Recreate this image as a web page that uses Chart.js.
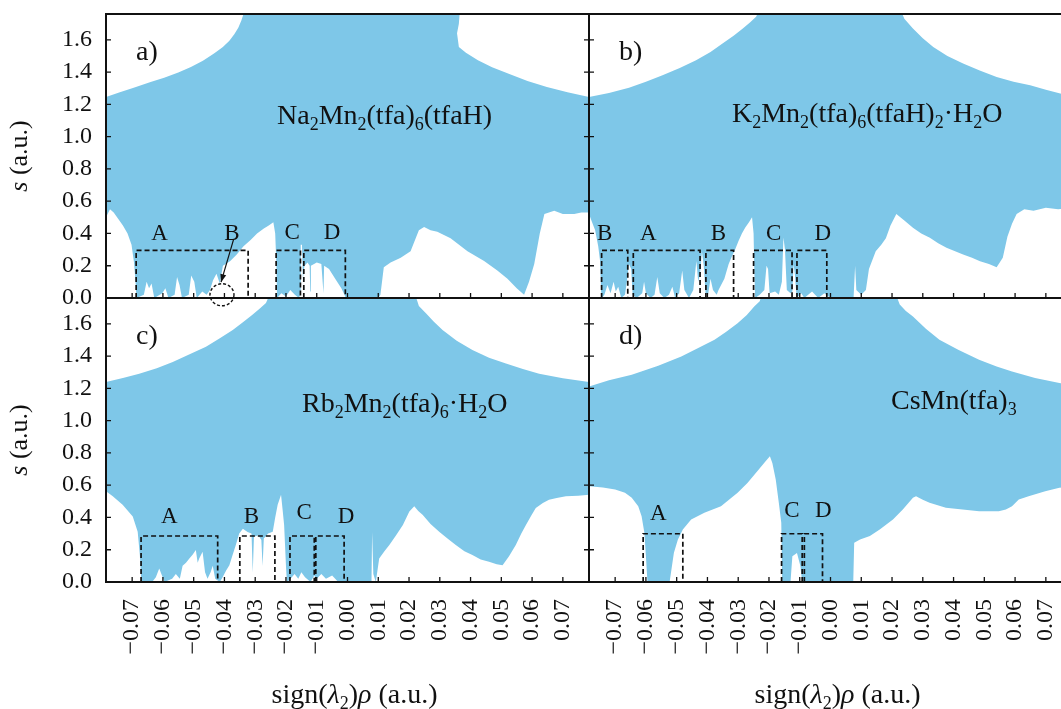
<!DOCTYPE html>
<html>
<head>
<meta charset="utf-8">
<script src="https://cdn.jsdelivr.net/npm/chart.js@4.4.1/dist/chart.umd.min.js"></script>
<style>
  html, body { margin: 0; padding: 0; background: #fff; }
  body { width: 1061px; height: 709px; overflow: hidden; position: relative; }
  canvas { position: absolute; }
</style>
</head>
<body>
<canvas id="panel-a" width="600" height="310" style="left:0;top:0"></canvas>
<canvas id="panel-b" width="483" height="310" style="left:589px;top:0"></canvas>
<canvas id="panel-c" width="600" height="418" style="left:0;top:291px"></canvas>
<canvas id="panel-d" width="483" height="418" style="left:589px;top:291px"></canvas>
<script>
const BLUE = 'rgb(126,199,232)';
const INK = '#111';
const SERIF = '"Liberation Serif", "Times New Roman", serif';

const X_MIN = -0.0785, X_MAX = 0.0785, Y_MAX = 1.76;
const xTickValues = [-0.07, -0.06, -0.05, -0.04, -0.03, -0.02, -0.01, 0, 0.01, 0.02, 0.03, 0.04, 0.05, 0.06, 0.07];
const yTickValues = [0, 0.2, 0.4, 0.6, 0.8, 1.0, 1.2, 1.4, 1.6];

// upper / lower edge of the blue point cloud, [sign(l2)rho, s]
const upperA = [[-0.0785,1.245],[-0.0740,1.275],[-0.0695,1.303],[-0.0640,1.338],[-0.0596,1.365],[-0.0550,1.398],[-0.0509,1.432],[-0.0470,1.470],[-0.0434,1.515],[-0.0405,1.555],[-0.0384,1.595],[-0.0368,1.635],[-0.0355,1.675],[-0.0345,1.720],[-0.0338,1.760],[-0.0335,1.800],
  [0.0366,1.800],[0.0362,1.700],[0.0356,1.640],[0.0362,1.556],[0.0385,1.520],[0.0424,1.473],[0.0470,1.430],[0.0524,1.390],[0.0585,1.345],[0.0648,1.307],[0.0715,1.275],[0.0785,1.245]];
const lowerA = [[-0.0785,0.50],[-0.0772,0.55],[-0.0760,0.53],[-0.0745,0.49],[-0.0730,0.45],[-0.0715,0.40],[-0.0702,0.33],[-0.0694,0.22],[-0.0689,0.10],[-0.0686,0.0],
  [-0.0662,0.02],[-0.0653,0.10],[-0.0645,0.06],[-0.0637,0.09],[-0.0628,0.0],[-0.0602,0.03],[-0.0592,0.06],[-0.0582,0.0],
  [-0.0562,0.02],[-0.0554,0.13],[-0.0546,0.08],[-0.0538,0.0],[-0.0516,0.02],[-0.0508,0.14],[-0.0498,0.10],[-0.0490,0.0],
  [-0.0472,0.04],[-0.0458,0.02],[-0.0447,0.05],[-0.0437,0.11],[-0.0426,0.15],[-0.0415,0.09],[-0.0405,0.20],[-0.0381,0.23],[-0.0360,0.27],[-0.0338,0.32],[-0.0315,0.36],[-0.0294,0.40],[-0.0272,0.43],[-0.0256,0.45],[-0.0241,0.47],[-0.0235,0.40],[-0.0231,0.20],[-0.0229,0.0],
  [-0.0215,0.03],[-0.0200,0.01],[-0.0186,0.05],[-0.0171,0.02],[-0.0158,0.0],[-0.0154,0.02],[-0.0152,0.33],[-0.0148,0.33],[-0.0145,0.12],
  [-0.0140,0.20],[-0.0130,0.22],[-0.0123,0.20],[-0.0121,0.04],[-0.0119,0.20],[-0.0100,0.22],[-0.0085,0.21],[-0.0078,0.03],[-0.0076,0.20],[-0.0060,0.18],[-0.0040,0.12],[-0.0020,0.06],[-0.0005,0.0],
  [0.0100,0.0],[0.0107,0.02],[0.0118,0.19],[0.0140,0.22],[0.0173,0.25],[0.0205,0.29],[0.0232,0.42],[0.0249,0.44],[0.0270,0.42],[0.0292,0.41],[0.0335,0.37],[0.0390,0.29],[0.0444,0.23],[0.0487,0.17],[0.0520,0.12],[0.0550,0.06],[0.0574,0.02],
  [0.0590,0.10],[0.0607,0.21],[0.0625,0.40],[0.0640,0.52],[0.0672,0.54],[0.0700,0.52],[0.0737,0.52],[0.0760,0.53],[0.0785,0.53]];

const upperB = [[-0.0785,1.245],[-0.0720,1.270],[-0.0655,1.303],[-0.0600,1.340],[-0.0546,1.380],[-0.0490,1.425],[-0.0437,1.473],[-0.0390,1.525],[-0.0351,1.577],[-0.0315,1.625],[-0.0285,1.670],[-0.0260,1.710],[-0.0242,1.743],[-0.0226,1.800],
  [0.0225,1.800],[0.0240,1.730],[0.0268,1.670],[0.0300,1.610],[0.0334,1.556],[0.0380,1.500],[0.0431,1.453],[0.0485,1.410],[0.0540,1.370],[0.0595,1.340],[0.0649,1.318],[0.0700,1.290],[0.0750,1.266],[0.0785,1.255]];
const lowerB = [[-0.0785,0.52],[-0.0775,0.47],[-0.0765,0.42],[-0.0755,0.32],[-0.0749,0.23],[-0.0746,0.05],[-0.0743,0.0],
  [-0.0735,0.02],[-0.0725,0.08],[-0.0715,0.03],[-0.0705,0.10],[-0.0698,0.04],[-0.0690,0.07],[-0.0680,0.0],[-0.0668,0.02],
  [-0.0662,0.10],[-0.0655,0.21],[-0.0648,0.18],[-0.0643,0.02],
  [-0.0630,0.0],[-0.0612,0.03],[-0.0606,0.10],[-0.0600,0.03],[-0.0585,0.0],[-0.0572,0.02],[-0.0563,0.13],[-0.0555,0.03],[-0.0540,0.0],[-0.0525,0.02],[-0.0514,0.07],[-0.0505,0.0],[-0.0492,0.03],[-0.0482,0.17],[-0.0475,0.05],[-0.0460,0.0],[-0.0446,0.05],[-0.0436,0.23],[-0.0430,0.10],
  [-0.0424,0.15],[-0.0418,0.29],[-0.0412,0.20],[-0.0406,0.03],
  [-0.0398,0.02],[-0.0390,0.12],[-0.0382,0.05],[-0.0370,0.02],[-0.0364,0.05],[-0.0345,0.12],[-0.0331,0.21],[-0.0320,0.26],[-0.0310,0.30],[-0.0299,0.354],[-0.0288,0.40],[-0.0277,0.437],[-0.0265,0.47],[-0.0255,0.50],[-0.0250,0.40],[-0.0248,0.20],[-0.0245,0.0],
  [-0.0230,0.02],[-0.0215,0.05],[-0.0208,0.20],[-0.0203,0.18],[-0.0198,0.03],[-0.0180,0.04],[-0.0168,0.02],[-0.0158,0.10],[-0.0153,0.375],[-0.0148,0.30],[-0.0142,0.05],[-0.0130,0.03],
  [-0.0124,0.04],[-0.0120,0.21],[-0.0116,0.15],[-0.0110,0.0],[-0.0095,0.03],[-0.0085,0.0],[-0.0060,0.04],[-0.0040,0.0],[-0.0020,0.03],[0.0000,0.0],
  [0.0075,0.0],[0.0080,0.20],[0.0084,0.05],[0.0100,0.02],[0.0115,0.05],[0.0125,0.18],[0.0147,0.29],[0.0165,0.33],[0.0180,0.37],[0.0195,0.45],[0.0214,0.52],[0.0240,0.48],[0.0268,0.436],[0.0295,0.40],[0.0323,0.374],[0.0350,0.34],[0.0377,0.311],[0.0405,0.29],[0.0431,0.27],[0.0460,0.25],[0.0486,0.228],[0.0515,0.21],[0.0540,0.19],
  [0.0560,0.25],[0.0575,0.38],[0.0590,0.46],[0.0605,0.52],[0.0630,0.55],[0.0660,0.54],[0.0700,0.56],[0.0740,0.55],[0.0785,0.56]];

const upperC = [[-0.0785,1.239],[-0.0730,1.265],[-0.0677,1.291],[-0.0620,1.325],[-0.0568,1.364],[-0.0515,1.410],[-0.0460,1.458],[-0.0415,1.510],[-0.0373,1.562],[-0.0340,1.610],[-0.0309,1.656],[-0.0285,1.695],[-0.0265,1.729],[-0.0249,1.800],
  [0.0217,1.800],[0.0232,1.710],[0.0255,1.666],[0.0280,1.615],[0.0309,1.562],[0.0355,1.495],[0.0406,1.437],[0.0460,1.390],[0.0515,1.354],[0.0570,1.320],[0.0623,1.291],[0.0700,1.262],[0.0785,1.239]];
const lowerC = [[-0.0785,0.562],[-0.0763,0.531],[-0.0731,0.479],[-0.0698,0.406],[-0.0682,0.312],[-0.0675,0.167],[-0.0670,0.0],
  [-0.0635,0.0],[-0.0623,0.03],[-0.0612,0.083],[-0.0603,0.04],[-0.0595,0.0],[-0.0570,0.02],[-0.0558,0.05],[-0.0545,0.02],[-0.0536,0.10],[-0.0525,0.12],[-0.0514,0.146],[-0.0503,0.17],[-0.0493,0.198],[-0.0487,0.12],[-0.0482,0.146],[-0.0471,0.187],[-0.0463,0.06],[-0.0455,0.02],[-0.0445,0.06],[-0.0438,0.10],[-0.0430,0.02],
  [-0.0415,0.0],[-0.0406,0.03],[-0.0395,0.07],[-0.0384,0.104],[-0.0373,0.17],[-0.0363,0.229],[-0.0352,0.30],[-0.0340,0.33],[-0.0325,0.31],[-0.0312,0.30],[-0.0308,0.06],[-0.0304,0.28],[-0.0290,0.29],[-0.0280,0.26],[-0.0276,0.10],[-0.0272,0.27],[-0.0258,0.30],[-0.0243,0.312],[-0.0235,0.40],[-0.0227,0.479],[-0.0216,0.541],[-0.0211,0.45],[-0.0206,0.354],[-0.0200,0.10],[-0.0197,0.0],
  [-0.0185,0.02],[-0.0172,0.05],[-0.0160,0.02],[-0.0150,0.06],[-0.0138,0.03],[-0.0120,0.0],[-0.0108,0.04],[-0.0100,0.02],[-0.0085,0.05],[-0.0070,0.02],[-0.0050,0.04],[-0.0030,0.0],
  [0.0078,0.0],[0.0080,0.31],[0.0084,0.05],[0.0092,0.0],[0.0103,0.146],[0.0120,0.19],[0.0136,0.229],[0.0158,0.29],[0.0180,0.354],[0.0201,0.437],[0.0217,0.469],[0.0230,0.44],[0.0244,0.417],[0.0270,0.36],[0.0298,0.312],[0.0325,0.27],[0.0352,0.229],[0.0380,0.19],[0.0406,0.167],[0.0433,0.14],[0.0460,0.125],[0.0485,0.11],[0.0504,0.104],
  [0.0525,0.16],[0.0547,0.229],[0.0565,0.30],[0.0580,0.354],[0.0597,0.41],[0.0612,0.458],[0.0635,0.49],[0.0655,0.51],[0.0680,0.52],[0.0710,0.531],[0.0750,0.535],[0.0785,0.541]];

const upperD = [[-0.0785,1.212],[-0.0720,1.250],[-0.0646,1.285],[-0.0560,1.340],[-0.0485,1.398],[-0.0430,1.450],[-0.0377,1.501],[-0.0340,1.550],[-0.0302,1.604],[-0.0272,1.655],[-0.0248,1.707],[-0.0230,1.740],[-0.0221,1.800],
  [0.0209,1.800],[0.0225,1.720],[0.0245,1.680],[0.0268,1.645],[0.0310,1.570],[0.0354,1.501],[0.0415,1.440],[0.0483,1.377],[0.0540,1.335],[0.0590,1.305],[0.0665,1.265],[0.0744,1.233],[0.0785,1.220]];
const lowerD = [[-0.0785,0.594],[-0.0740,0.585],[-0.0700,0.573],[-0.0668,0.553],[-0.0646,0.522],[-0.0625,0.470],[-0.0614,0.408],[-0.0605,0.305],[-0.0600,0.161],[-0.0595,0.0],
  [-0.0523,0.0],[-0.0517,0.078],[-0.0509,0.181],[-0.0496,0.264],[-0.0480,0.326],[-0.0453,0.388],[-0.0410,0.429],[-0.0356,0.470],[-0.0330,0.510],[-0.0302,0.553],[-0.0270,0.614],[-0.0238,0.687],[-0.0211,0.748],[-0.0197,0.779],[-0.0189,0.738],[-0.0178,0.635],[-0.0168,0.491],[-0.0160,0.367],[-0.0157,0.0],
  [-0.0130,0.0],[-0.0124,0.16],[-0.0109,0.18],[-0.0098,0.10],[-0.0092,0.0],
  [0.0074,0.0],[0.0077,0.243],[0.0096,0.264],[0.0128,0.285],[0.0160,0.326],[0.0203,0.388],[0.0235,0.449],[0.0268,0.522],[0.0278,0.532],[0.0300,0.510],[0.0322,0.491],[0.0375,0.460],[0.0429,0.449],[0.0483,0.439],[0.0547,0.439],[0.0570,0.450],[0.0590,0.470],[0.0612,0.511],[0.0644,0.532],[0.0698,0.563],[0.0744,0.584],[0.0785,0.590]];

// dashed boxes [x0, x1, top] and their letters [text, x, s]
const boxesA = [[-0.0687,-0.0323,0.295],[-0.0232,-0.0153,0.295],[-0.0142,-0.0007,0.295]];
const lettersA = [['A',-0.0611,0.40],['B',-0.0376,0.40],['C',-0.0180,0.405],['D',-0.0050,0.405]];
const boxesB = [[-0.0744,-0.0659,0.295],[-0.0641,-0.0424,0.295],[-0.0405,-0.0315,0.295],[-0.0250,-0.0125,0.295],[-0.0109,-0.0012,0.295]];
const lettersB = [['B',-0.0734,0.40],['A',-0.0592,0.40],['B',-0.0364,0.40],['C',-0.0185,0.40],['D',-0.0025,0.40]];
const boxesC = [[-0.0671,-0.0422,0.285],[-0.0350,-0.0236,0.285],[-0.0187,-0.0108,0.285],[-0.0103,-0.0011,0.285]];
const lettersC = [['A',-0.0579,0.406],['B',-0.0312,0.406],['C',-0.0141,0.427],['D',-0.0005,0.406]];
const boxesD = [[-0.0609,-0.0480,0.299],[-0.0159,-0.0092,0.299],[-0.0085,-0.0026,0.299]];
const lettersD = [['A',-0.0560,0.419],['C',-0.0125,0.44],['D',-0.0023,0.44]];
const circleB = [-0.0408, 0.02];
const arrowB = [[-0.0370, 0.365], [-0.0411, 0.098]];

// text pieces: 0 plain, 1 subscript, 2 italic
const formulaA = [['Na',0],['2',1],['Mn',0],['2',1],['(tfa)',0],['6',1],['(tfaH)',0]];
const formulaB = [['K',0],['2',1],['Mn',0],['2',1],['(tfa)',0],['6',1],['(tfaH)',0],['2',1],['·H',0],['2',1],['O',0]];
const formulaC = [['Rb',0],['2',1],['Mn',0],['2',1],['(tfa)',0],['6',1],['·H',0],['2',1],['O',0]];
const formulaD = [['CsMn(tfa)',0],['3',1]];
const xTitleParts = [['sign(',0],['λ',2],['2',1],[')',0],['ρ',2],[' (a.u.)',0]];
const yTitleParts = [['s',2],[' (a.u.)',0]];

const pts = (pairs) => pairs.map(([x, y]) => ({ x, y }));

function runParts(ctx, parts, x, y, size, draw) {
  let cx = x;
  parts.forEach(([t, k]) => {
    ctx.font = (k === 2 ? 'italic ' : '') + (k === 1 ? Math.round(size * 0.65) : size) + 'px ' + SERIF;
    if (draw) ctx.fillText(t, cx, k === 1 ? y + size * 0.22 : y);
    cx += ctx.measureText(t).width;
  });
  return cx - x;
}

const decorById = {};

const decor = {
  id: 'decor',
  afterDraw(chart) {
    const p = decorById[chart.canvas.id];
    const { ctx, chartArea: a, scales: { x, y } } = chart;
    const px = (v) => x.getPixelForValue(v);
    const py = (v) => y.getPixelForValue(v);
    ctx.save();
    ctx.fillStyle = INK;
    ctx.strokeStyle = INK;
    ctx.textBaseline = 'alphabetic';

    if (p.circle) {
      ctx.lineWidth = 1.4;
      ctx.setLineDash([3, 2]);
      ctx.beginPath();
      ctx.ellipse(px(p.circle[0]), py(p.circle[1]), 12, 11, 0, 0, Math.PI * 2);
      ctx.stroke();
      ctx.setLineDash([]);
    }
    if (p.arrow) {
      const [[x1, y1], [x2, y2]] = p.arrow.map(([u, v]) => [px(u), py(v)]);
      const ang = Math.atan2(y2 - y1, x2 - x1);
      ctx.lineWidth = 1.2;
      ctx.beginPath(); ctx.moveTo(x1, y1); ctx.lineTo(x2, y2); ctx.stroke();
      ctx.beginPath();
      ctx.moveTo(x2, y2);
      ctx.lineTo(x2 - 8 * Math.cos(ang) + 3 * Math.sin(ang), y2 - 8 * Math.sin(ang) - 3 * Math.cos(ang));
      ctx.lineTo(x2 - 8 * Math.cos(ang) - 3 * Math.sin(ang), y2 - 8 * Math.sin(ang) + 3 * Math.cos(ang));
      ctx.closePath(); ctx.fill();
    }

    ctx.font = '23px ' + SERIF;
    ctx.textAlign = 'center';
    ctx.textBaseline = 'middle';
    p.letters.forEach(([t, u, v]) => ctx.fillText(t, px(u), py(v)));

    ctx.textAlign = 'left';
    ctx.textBaseline = 'alphabetic';
    ctx.font = '28px ' + SERIF;
    ctx.fillText(p.tag, a.left + 30, a.top + 46);
    runParts(ctx, p.formula, a.left + p.formulaAt[0], a.top + p.formulaAt[1], 28, true);

    // frame and inward ticks
    ctx.lineWidth = 2;
    ctx.strokeRect(a.left, a.top, a.right - a.left, a.bottom - a.top);
    ctx.lineWidth = 1.3;
    ctx.beginPath();
    xTickValues.forEach((v) => { ctx.moveTo(px(v), a.bottom); ctx.lineTo(px(v), a.bottom - 5); });
    yTickValues.forEach((v) => {
      ctx.moveTo(a.left, py(v)); ctx.lineTo(a.left + 5, py(v));
      ctx.moveTo(a.right, py(v)); ctx.lineTo(a.right - 5, py(v));
    });
    ctx.stroke();

    if (p.yTitle) {
      ctx.save();
      ctx.translate(19, (a.top + a.bottom) / 2);
      ctx.rotate(-Math.PI / 2);
      const w = runParts(ctx, yTitleParts, 0, 0, 26, false);
      runParts(ctx, yTitleParts, -w / 2, 8, 26, true);
      ctx.restore();
    }
    if (p.xTitle) {
      const w = runParts(ctx, xTitleParts, 0, 0, 28, false);
      runParts(ctx, xTitleParts, (a.left + a.right) / 2 + 7 - w / 2, a.bottom + 121, 28, true);
    }
    ctx.restore();
  }
};

function panel(id, p) {
  decorById[id] = p;
  const clouds = [
    { data: pts(p.upper), backgroundColor: BLUE, fill: 'origin', order: 3 },
    { data: pts(p.lower), backgroundColor: '#ffffff', fill: 'origin', order: 2 }
  ].map((d) => ({ ...d, borderWidth: 0, borderColor: 'rgba(0,0,0,0)', pointRadius: 0, tension: 0 }));
  const boxes = p.boxes.map(([x0, x1, top]) => ({
    data: pts([[x0, 0], [x0, top], [x1, top], [x1, 0]]),
    borderColor: INK, borderWidth: 1.7, borderDash: [5, 3], fill: false, pointRadius: 0, order: 1
  }));
  const tickFont = { family: SERIF, size: 24 };
  return new Chart(document.getElementById(id), {
    type: 'line',
    data: { datasets: [...clouds, ...boxes] },
    options: {
      responsive: false,
      animation: false,
      devicePixelRatio: 1,
      events: [],
      layout: { padding: p.padding },
      plugins: { legend: { display: false }, tooltip: { enabled: false } },
      scales: {
        x: {
          type: 'linear', min: X_MIN, max: X_MAX, display: p.showX,
          grid: { display: false, drawTicks: false }, border: { display: false },
          afterBuildTicks: (s) => { s.ticks = xTickValues.map((value) => ({ value })); },
          afterFit: (s) => { if (p.showX) { s.height = 127; s.paddingLeft = 0; s.paddingRight = 0; } },
          ticks: {
            autoSkip: false, minRotation: 90, maxRotation: 90, padding: 17, color: INK, font: tickFont,
            callback: (v) => (v < -1e-9 ? '\u2212' : '') + Math.abs(v).toFixed(2)
          }
        },
        y: {
          type: 'linear', min: 0, max: Y_MAX, display: p.showY,
          grid: { display: false, drawTicks: false }, border: { display: false },
          afterBuildTicks: (s) => { s.ticks = yTickValues.map((value) => ({ value })); },
          afterFit: (s) => { if (p.showY) { s.width = 106; s.paddingTop = 0; s.paddingBottom = 0; } },
          ticks: { padding: 14, color: INK, font: tickFont, callback: (v) => v.toFixed(1) }
        }
      }
    },
    plugins: [decor]
  });
}

panel('panel-a', { upper: upperA, lower: lowerA, boxes: boxesA, letters: lettersA, circle: circleB, arrow: arrowB,
  tag: 'a)', formula: formulaA, formulaAt: [171, 110], showX: false, showY: true, yTitle: true,
  padding: { left: 0, top: 14, right: 11, bottom: 12 } });
panel('panel-b', { upper: upperB, lower: lowerB, boxes: boxesB, letters: lettersB,
  tag: 'b)', formula: formulaB, formulaAt: [143, 108], showX: false, showY: false,
  padding: { left: 0, top: 14, right: 0, bottom: 12 } });
panel('panel-c', { upper: upperC, lower: lowerC, boxes: boxesC, letters: lettersC,
  tag: 'c)', formula: formulaC, formulaAt: [196, 114], showX: true, showY: true, yTitle: true, xTitle: true,
  padding: { left: 0, top: 7, right: 11, bottom: 0 } });
panel('panel-d', { upper: upperD, lower: lowerD, boxes: boxesD, letters: lettersD,
  tag: 'd)', formula: formulaD, formulaAt: [302, 111], showX: true, showY: false, xTitle: true,
  padding: { left: 0, top: 7, right: 0, bottom: 0 } });
</script>
</body>
</html>
